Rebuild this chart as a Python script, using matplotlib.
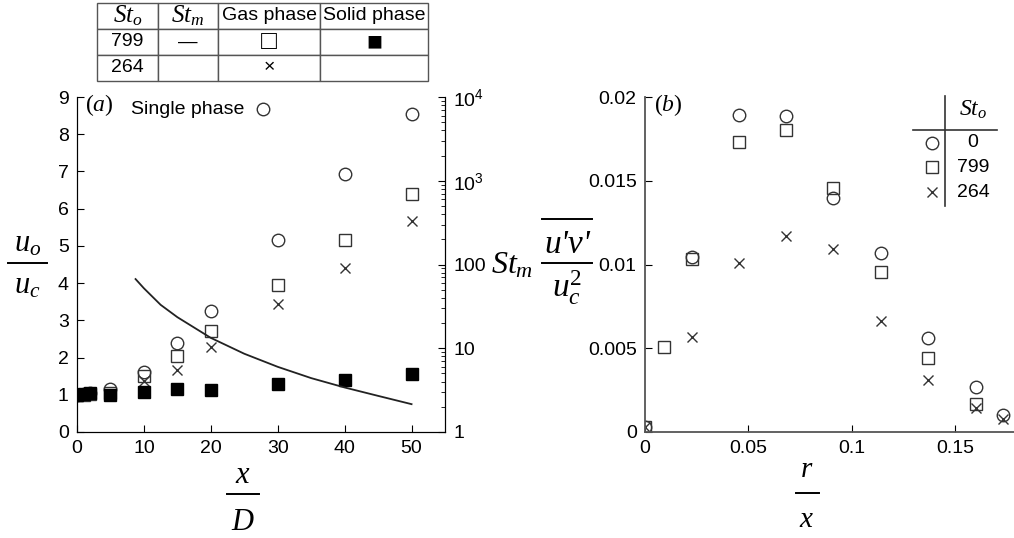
import numpy as np
import matplotlib
matplotlib.use('Agg')
from matplotlib import pyplot as plt
from matplotlib.lines import Line2D
from matplotlib.ticker import LogLocator, NullFormatter

plt.rcParams['font.family'] = ['Liberation Sans', 'DejaVu Sans']
plt.rcParams['mathtext.fontset'] = 'custom'
plt.rcParams['mathtext.rm'] = 'Liberation Serif'
plt.rcParams['mathtext.it'] = 'Liberation Serif:italic'
plt.rcParams['mathtext.sf'] = 'Liberation Sans'

nan = np.nan

# panel (a): centreline velocity decay vs x/D
xd = [0, 1, 2, 5, 10, 15, 20, 30, 40, 50]
single_a = [1.0, 1.03, 1.05, 1.15, 1.6, 2.39, 3.24, 5.17, 6.92, 8.53]
gas799_a = [1.0, 1.0, 1.02, 1.05, 1.5, 2.04, 2.71, 3.95, 5.17, 6.40]
gas264_a = [1.0, 1.0, 1.0, 1.0, 1.38, 1.67, 2.28, 3.44, 4.40, 5.66]
solid799_a = [1.0, 1.02, 1.04, 1.0, 1.07, 1.16, 1.14, 1.29, 1.40, 1.56]

# St_m curve (right log axis)
stm_x = [8.75, 10, 12.5, 15, 20, 25, 30, 35, 40, 45, 50]
stm_y = [67, 52, 33, 23.5, 13.3, 8.6, 6.0, 4.4, 3.4, 2.7, 2.15]

# panel (b): Reynolds stress profiles vs r/x
rx = [0, 0.0091, 0.0227, 0.0454, 0.068, 0.091, 0.114, 0.137, 0.16, 0.173]
single_b = [0.0003, nan, 0.01046, 0.01894, 0.01886, 0.0140, 0.0107, 0.0056, 0.0027, 0.0010]
gas799_b = [0.0003, 0.00506, 0.01034, 0.01732, 0.01804, 0.01454, 0.00956, 0.0044, 0.0017, nan]
gas264_b = [0.0003, nan, 0.0057, 0.0101, 0.0117, 0.0109, 0.0066, 0.0031, 0.00144, 0.0008]

table_rows = [[r'$St_o$', r'$St_m$', 'Gas phase', 'Solid phase'],
              ['799', '\u2014', '\u25a1', '\u25a0'],
              ['264', '', '\u00d7', '']]
legend_b = ['0', '799', '264']

W, H = 1014, 538
fig = plt.figure(figsize=(W / 100, H / 100), dpi=100)


def px_text(x, y, s, **kw):
    # place text using pixel coords measured from the top-left corner
    return fig.text(x / W, 1 - y / H, s, **kw)


def px_bar(x0, x1, y):
    fig.add_artist(Line2D([x0 / W, x1 / W], [1 - y / H, 1 - y / H], color='black', lw=1.4))


def fraction(num, den, xc, num_base, ybar, den_base, half, size=22, num_kw=None):
    px_text(xc, num_base, num, fontsize=size, ha='center', va='baseline', **(num_kw or {}))
    px_bar(xc - half, xc + half, ybar)
    px_text(xc, den_base, den, fontsize=size, ha='center', va='baseline')


grey = '#333333'
open_kw = dict(ls='none', mfc='none', mec=grey, mew=1.0)

# ---------------- panel (a)
ax = fig.add_axes([77 / W, 106 / H, 368 / W, 335 / H])
ax.plot(xd, single_a, marker='o', ms=9, **open_kw)
ax.plot(xd, gas799_a, marker='s', ms=8, **open_kw)
ax.plot(xd, gas264_a, marker='x', ms=7.5, **open_kw)
ax.plot(xd, solid799_a, ls='none', marker='s', ms=8.5, color='black', zorder=5)
ax.set_xlim(0, 55)
ax.set_ylim(0, 9)
ax.set_xticks([0, 10, 20, 30, 40, 50])
ax.set_yticks(range(10))
ax.spines['top'].set_visible(False)
ax.tick_params(direction='in', length=5, labelsize=14, pad=6)

ax.text(0.022, 0.975, r'$(a)$', transform=ax.transAxes, fontsize=17, va='center', ha='left')
ax.text(0.147, 0.964, 'Single phase', transform=ax.transAxes, fontsize=14, va='center', ha='left')
ax.plot([0.505], [0.964], marker='o', ms=9, transform=ax.transAxes, clip_on=False, **open_kw)

ax2 = ax.twinx()
ax2.set_yscale('log')
ax2.set_ylim(1, 1e4)
ax2.plot(stm_x, stm_y, color='#222222', lw=1.3)
ax2.set_yticks([1, 10, 100, 1000, 10000])
ax2.set_yticklabels(['1', '10', '100', r'$\mathsf{10^3}$', r'$\mathsf{10^4}$'])
ax2.yaxis.set_minor_locator(LogLocator(subs=np.arange(2, 10)))
ax2.yaxis.set_minor_formatter(NullFormatter())
ax2.spines['top'].set_visible(False)
ax2.tick_params(which='both', direction='in', labelsize=14, pad=6)
ax2.tick_params(which='major', length=5)
ax2.tick_params(which='minor', length=3)

fraction(r'$u_o$', r'$u_c$', 27.5, 252, 263, 293, 19.5)
fraction(r'$x$', r'$D$', 243, 483, 494, 530, 16)

# ---------------- panel (b)
axb = fig.add_axes([645 / W, 106 / H, 369 / W, 335 / H])
axb.plot(rx, single_b, marker='o', ms=9, **open_kw)
axb.plot(rx, gas799_b, marker='s', ms=8, **open_kw)
axb.plot(rx, gas264_b, marker='x', ms=7.5, **open_kw)
axb.set_xlim(0, 369 / 2067)
axb.set_ylim(0, 0.02)
axb.set_xticks([0, 0.05, 0.1, 0.15])
axb.set_xticklabels(['0', '0.05', '0.1', '0.15'])
axb.set_yticks([0, 0.005, 0.01, 0.015, 0.02])
axb.set_yticklabels(['0', '0.005', '0.01', '0.015', '0.02'])
for s in ['top', 'right']:
    axb.spines[s].set_visible(False)
for s in ['left', 'bottom']:
    axb.spines[s].set_color('#555555')
    axb.spines[s].set_linewidth(1.3)
axb.tick_params(direction='in', length=5, labelsize=14, pad=6)

axb.text(0.025, 0.975, r'$(b)$', transform=axb.transAxes, fontsize=17, va='center', ha='left')

px_text(491, 273, r'$St_m$', fontsize=23, ha='left', va='baseline')
fraction("u'v'", r'$u_c^2$', 567, 253, 263, 297, 25, size=24,
         num_kw=dict(family='Liberation Serif', style='italic'))
px_bar(542, 592, 219)
fraction(r'$r$', r'$x$', 807, 477, 493, 527, 11.5, size=21)

# small St_o key in panel (b)
axb.plot([0.813, 0.813], [1.003, 0.675], color=grey, lw=1.2, transform=axb.transAxes, clip_on=False)
axb.plot([0.726, 0.954], [0.901, 0.901], color=grey, lw=1.2, transform=axb.transAxes, clip_on=False)
axb.text(0.889, 0.962, r'$St_o$', transform=axb.transAxes, fontsize=17, ha='center', va='center')
key_y = [0.863, 0.791, 0.716]
for mk, ms, lab, yy in zip(['o', 's', 'x'], [9, 8, 7.5], legend_b, key_y):
    axb.plot([0.778], [yy], marker=mk, ms=ms, transform=axb.transAxes, clip_on=False, **open_kw)
    axb.text(0.889, yy, lab, transform=axb.transAxes, fontsize=14, ha='center', va='center')

# ---------------- header table
tax = fig.add_axes([97 / W, 1 - 81 / H, 331 / W, 78 / H])
tax.axis('off')
tbl = tax.table(cellText=table_rows, colWidths=[61, 60, 102, 108], cellLoc='center',
                bbox=[0, 0, 1, 1])
tbl.auto_set_font_size(False)
tbl.set_fontsize(14)
for (r, c), cell in tbl.get_celld().items():
    cell.set_edgecolor('#555555')
    cell.set_linewidth(1.0)
    if r == 0 and c < 2:
        cell.get_text().set_fontsize(18)
    if r == 1 and c >= 2:
        cell.get_text().set_fontsize(19)

fig.savefig('out.png', dpi=100)
